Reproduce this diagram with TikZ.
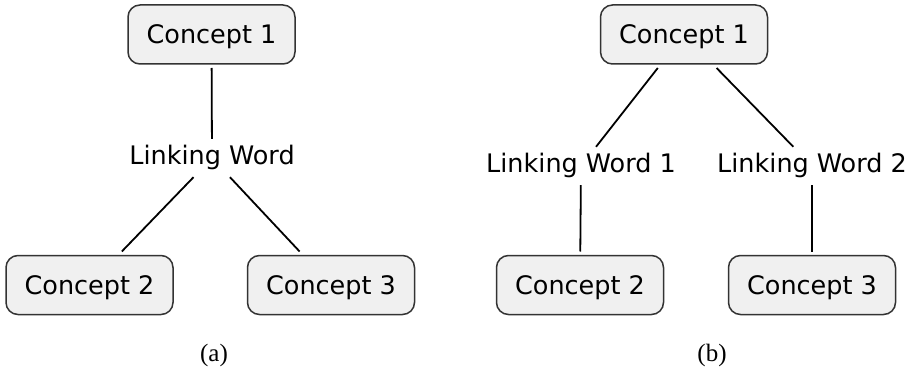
\documentclass[tikz,border=0pt]{standalone}
\usepackage{fontspec}
\setmainfont{DejaVu Sans}
\newfontfamily\capfont{Liberation Serif}
\usepackage{tikz}

\tikzset{
  concept/.style={draw=black!80, line width=1.5pt, fill=black!6, rounded corners=12pt,
    minimum width=167pt, minimum height=59pt, inner sep=0pt, outer sep=4pt,
    text height=18pt, text depth=0pt, font=\fontsize{25.5}{30}\selectfont},
  linkword/.style={inner sep=0pt, text height=25pt, text depth=13pt, anchor=base,
    font=\fontsize{25.5}{30}\selectfont},
  link/.style={line width=1.8pt},
  subcap/.style={font=\capfont\fontsize{25}{30}\selectfont}
}

\begin{document}
\begin{tikzpicture}[x=1pt,y=-1pt]
    \useasboundingbox (0,0) rectangle (917,377);
    % (a) one linking word
    \node[concept] (c1a) at (211.5,34.5) {Concept 1};
    \node[linkword] (lwa) at (212,164) {Linking Word};
    \node[concept] (c2a) at (89.5,285) {Concept 2};
    \node[concept] (c3a) at (331,285) {Concept 3};
    \draw[link] (c1a) -- (lwa);
    \draw[link] (lwa) -- (c2a);
    \draw[link] (lwa) -- (c3a);
    \node[subcap] (capa) at (214,355) {(a)};

    % (b) two linking words
    \node[concept] (c1b) at (684,34.5) {Concept 1};
    \node[linkword] (lw1) at (581,172) {Linking Word 1};
    \node[linkword] (lw2) at (812,172) {Linking Word 2};
    \node[concept] (c2b) at (580,285) {Concept 2};
    \node[concept] (c3b) at (812,285) {Concept 3};
    \draw[link] (c1b) -- (lw1);
    \draw[link] (c1b) -- (lw2);
    \draw[link] (lw1) -- (c2b);
    \draw[link] (lw2) -- (c3b);
    \node[subcap] (capb) at (712,355) {(b)};
  \end{tikzpicture}
\end{document}
